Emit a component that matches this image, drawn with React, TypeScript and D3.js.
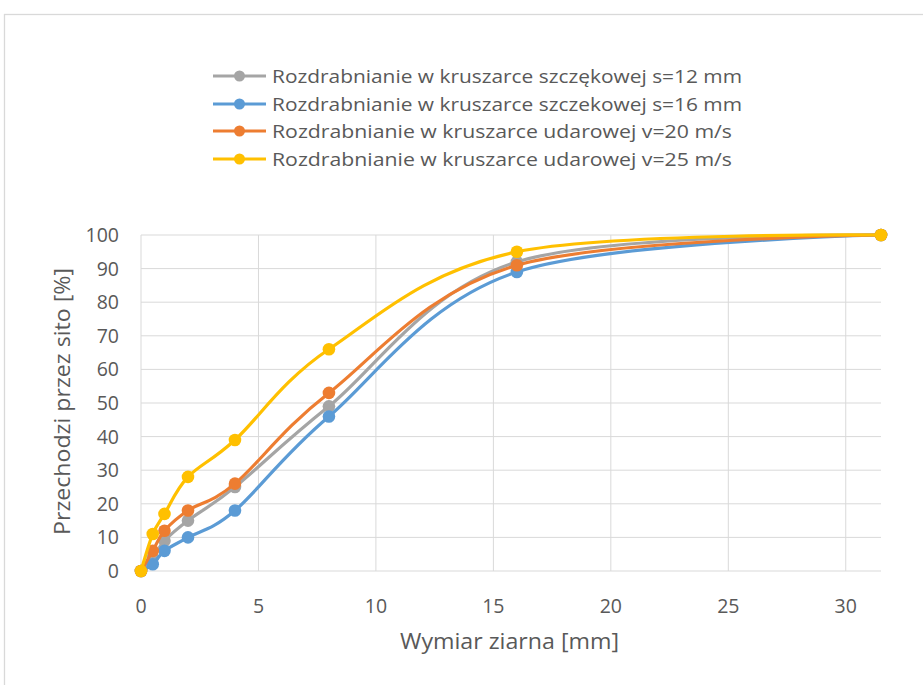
import React from "react";
import * as d3 from "d3";

// Sieve sizes [mm] and cumulative passing [%] for each crushing test
const sieveSizes = [0, 0.5, 1, 2, 4, 8, 16, 31.5];
const jaw12 = [0, 4, 9, 15, 25, 49, 92, 100];
const jaw16 = [0, 2, 6, 10, 18, 46, 89, 100];
const impact20 = [0, 6, 12, 18, 26, 53, 91, 100];
const impact25 = [0, 11, 17, 28, 39, 66, 95, 100];

const seriesNames = [
  "Rozdrabnianie w kruszarce szczękowej s=12 mm",
  "Rozdrabnianie w kruszarce szczekowej s=16 mm",
  "Rozdrabnianie w kruszarce udarowej v=20 m/s",
  "Rozdrabnianie w kruszarce udarowej v=25 m/s",
];
const seriesColors = ["#A5A5A5", "#5B9BD5", "#ED7D31", "#FFC000"];
const seriesValues = [jaw12, jaw16, impact20, impact25];

const xTicks = [0, 5, 10, 15, 20, 25, 30];
const yTicks = [0, 10, 20, 30, 40, 50, 60, 70, 80, 90, 100];

const xTitle = "Wymiar ziarna [mm]";
const yTitle = "Przechodzi przez sito [%]";

const W = 923;
const H = 685;
const FONT = "'Open Sans', sans-serif";
const TEXT = "#595959";
const GRID = "#D9D9D9";

export default function App() {
  const x = d3.scaleLinear().domain([0, 31.5]).range([141, 881]);
  const y = d3.scaleLinear().domain([0, 100]).range([571, 235]);

  const line = d3
    .line<[number, number]>()
    .x((d) => x(d[0]))
    .y((d) => y(d[1]))
    .curve(d3.curveCardinal.tension(0));

  const legendY = [76, 104, 131, 159];
  const legendLen = [470, 470, 460, 460];

  return (
    <svg
      width={W}
      height={H}
      style={{ position: "absolute", left: 0, top: 0, background: "#fff" }}
      fontFamily={FONT}
    >
      <rect x={4.5} y={14.5} width={1000} height={1000} fill="#fff" stroke={GRID} strokeWidth={1.3} />

      {/* gridlines */}
      {yTicks.map((t) => (
        <line key={"gy" + t} x1={x(0)} x2={x(31.5)} y1={y(t)} y2={y(t)} stroke={GRID} strokeWidth={1} />
      ))}
      {xTicks.map((t) => (
        <line key={"gx" + t} x1={x(t)} x2={x(t)} y1={y(0)} y2={y(100)} stroke={GRID} strokeWidth={1} />
      ))}

      {/* tick labels */}
      {yTicks.map((t) => (
        <text key={"ly" + t} x={119} y={y(t)} dy="0.36em" textAnchor="end" fontSize={19.5} fill={TEXT}>
          {t}
        </text>
      ))}
      {xTicks.map((t) => (
        <text key={"lx" + t} x={x(t)} y={606} dy="0.36em" textAnchor="middle" fontSize={19.5} fill={TEXT}>
          {t}
        </text>
      ))}

      {/* axis titles */}
      <text
        x={400}
        y={641}
        dy="0.36em"
        fontSize={21}
        fill={TEXT}
        textLength={219}
        lengthAdjust="spacingAndGlyphs"
      >
        {xTitle}
      </text>
      <text
        transform={`translate(62, 535) rotate(-90)`}
        dy="0.36em"
        fontSize={21}
        fill={TEXT}
        textLength={267}
        lengthAdjust="spacingAndGlyphs"
      >
        {yTitle}
      </text>

      {/* series */}
      {seriesValues.map((vals, i) => {
        const pts: [number, number][] = sieveSizes.map((s, j) => [s, vals[j]]);
        return (
          <g key={"s" + i}>
            <path d={line(pts) || ""} fill="none" stroke={seriesColors[i]} strokeWidth={3.2} strokeLinejoin="round" />
            {pts.map((p, j) => (
              <circle key={j} cx={x(p[0])} cy={y(p[1])} r={6.3} fill={seriesColors[i]} />
            ))}
          </g>
        );
      })}

      {/* legend */}
      {seriesNames.map((name, i) => (
        <g key={"lg" + i}>
          <line x1={213} x2={266} y1={legendY[i]} y2={legendY[i]} stroke={seriesColors[i]} strokeWidth={3.2} />
          <circle cx={239.5} cy={legendY[i]} r={5.5} fill={seriesColors[i]} />
          <text
            x={272}
            y={legendY[i]}
            dy="0.36em"
            fontSize={18.5}
            fill={TEXT}
            textLength={legendLen[i]}
            lengthAdjust="spacingAndGlyphs"
          >
            {name}
          </text>
        </g>
      ))}
    </svg>
  );
}
